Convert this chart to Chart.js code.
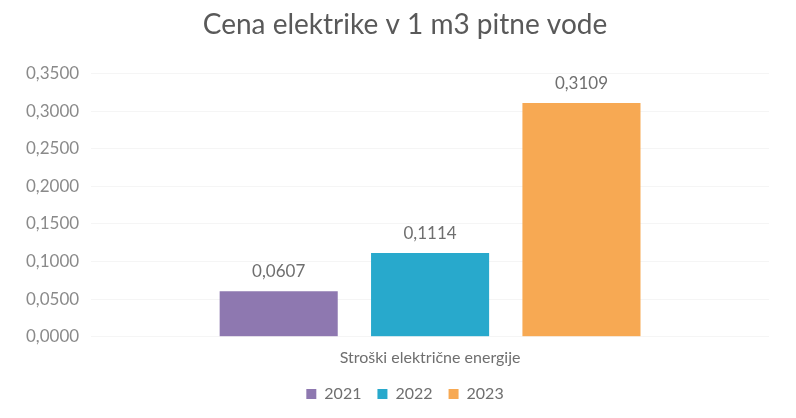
<!DOCTYPE html>
<html><head><meta charset="utf-8">
<script src="https://cdn.jsdelivr.net/npm/chart.js@4/dist/chart.umd.min.js"></script>
<style>html,body{margin:0;padding:0;background:#fff}#w{width:796px;height:418px}</style>
</head><body><div id="w"><canvas id="c"></canvas></div>
<script>
const categories = ["Stroški električne energije"];
const seriesNames = ["2021", "2022", "2023"];
const values2021 = [0.0607];
const values2022 = [0.1114];
const values2023 = [0.3109];
const seriesColors = ["#8e78b0", "#28a9cc", "#f7a953"];
const title = "Cena elektrike v 1 m3 pitne vode";

const FONT = 'Lato, "Open Sans", sans-serif';
const fmt = v => v.toFixed(4).replace('.', ',');
const labelPlugin = {
  id: 'vals',
  afterDatasetsDraw(chart) {
    const ctx = chart.ctx;
    ctx.save();
    ctx.font = '17px ' + FONT;
    ctx.fillStyle = '#6f6f6f';
    ctx.textAlign = 'center';
    ctx.textBaseline = 'bottom';
    chart.data.datasets.forEach((ds, i) => {
      chart.getDatasetMeta(i).data.forEach((el, j) => {
        ctx.fillText(fmt(ds.data[j]), el.x, el.y - 11);
      });
    });
    ctx.restore();
  }
};
const dataSets = [values2021, values2022, values2023].map((d, i) => ({
  label: seriesNames[i], data: d, backgroundColor: seriesColors[i],
  categoryPercentage: 0.67, barPercentage: 0.78
}));
new Chart(document.getElementById('c'), {
  type: 'bar',
  data: { labels: categories, datasets: dataSets },
  plugins: [labelPlugin],
  options: {
    responsive: true, maintainAspectRatio: false, animation: false,
    layout: { padding: { left: 14, right: 0, top: 0, bottom: 6 } },
    plugins: {
      title: { display: true, text: title, color: '#595959',
        font: { family: FONT, size: 28, weight: 'normal' },
        padding: { top: 8, bottom: 32 } },
      legend: { position: 'bottom',
        labels: { color: '#6f6f6f', boxWidth: 10, boxHeight: 10, padding: 16,
          font: { family: FONT, size: 16 } } },
      tooltip: { enabled: false }
    },
    scales: {
      x: { grid: { display: false }, border: { display: false },
        ticks: { color: '#6f6f6f', padding: 3, font: { family: FONT, size: 16 } } },
      y: { min: 0, max: 0.35, grid: { color: '#f5f5f5', drawTicks: false }, border: { display: false },
        ticks: { stepSize: 0.05, color: '#8a8a8a', padding: 12, callback: v => fmt(v),
          font: { family: FONT, size: 17 } } },
      spacer: { type: 'linear', position: 'right', display: true,
        grid: { display: false }, border: { display: false }, ticks: { display: false },
        afterFit: s => { s.width = 27; } }
    }
  }
});
</script></body></html>
